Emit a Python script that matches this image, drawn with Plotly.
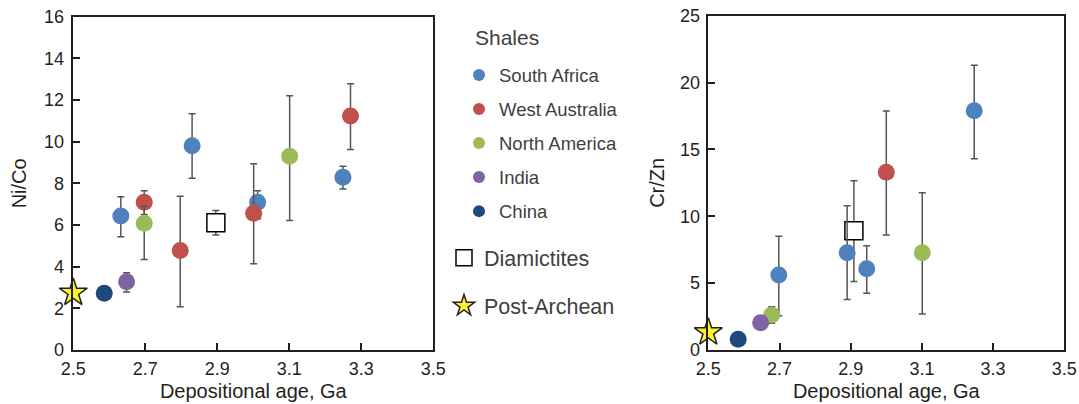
import plotly.graph_objects as go

# ---------------- data ----------------
# Left panel: Ni/Co vs depositional age (Ga)
sa_age_ni = [2.632, 2.830, 3.012, 3.249]
sa_ni = [6.43, 9.81, 7.09, 8.29]
sa_ni_hi = [7.36, 11.34, 7.65, 8.82]
sa_ni_lo = [5.44, 8.24, 6.30, 7.73]

wa_age_ni = [2.697, 2.797, 3.001, 3.270]
wa_ni = [7.09, 4.78, 6.56, 11.23]
wa_ni_hi = [7.65, 7.38, 8.94, 12.78]
wa_ni_lo = [6.50, 2.08, 4.14, 9.62]

na_age_ni = [2.697, 3.101]
na_ni = [6.08, 9.30]
na_ni_hi = [6.90, 12.21]
na_ni_lo = [4.35, 6.22]

in_age_ni = [2.648]
in_ni = [3.28]
in_ni_hi = [3.71]
in_ni_lo = [2.78]

cn_age_ni = [2.586]
cn_ni = [2.72]

dm_age_ni = [2.896]
dm_ni = [6.11]
dm_ni_hi = [6.70]
dm_ni_lo = [5.52]

pa_age_ni = [2.50]
pa_ni = [2.75]

# Right panel: Cr/Zn vs depositional age (Ga)
sa_age_cr = [2.698, 2.890, 2.945, 3.247]
sa_cr = [5.61, 7.28, 6.08, 17.90]
sa_cr_hi = [8.50, 10.79, 7.80, 21.30]
sa_cr_lo = [2.57, 3.78, 4.24, 14.30]

wa_age_cr = [3.000]
wa_cr = [13.29]
wa_cr_hi = [17.87]
wa_cr_lo = [8.60]

na_age_cr = [2.678, 3.101]
na_cr = [2.62, 7.28]
na_cr_hi = [3.24, 11.76]
na_cr_lo = [2.00, 2.70]

in_age_cr = [2.647]
in_cr = [2.04]

cn_age_cr = [2.584]
cn_cr = [0.80]

dm_age_cr = [2.909]
dm_cr = [8.92]
dm_cr_hi = [12.66]
dm_cr_lo = [5.13]

pa_age_cr = [2.50]
pa_cr = [1.32]

x_ticks = [2.5, 2.7, 2.9, 3.1, 3.3, 3.5]
ni_ticks = [0, 2, 4, 6, 8, 10, 12, 14, 16]
cr_ticks = [0, 5, 10, 15, 20, 25]

# ---------------- style ----------------
C_SA = "#4F81BD"
C_WA = "#C0504D"
C_NA = "#9BBB59"
C_IN = "#8064A2"
C_CN = "#1F497D"
ERR_C = "#555555"
FONT = "Liberation Sans, Arial, sans-serif"
TXT = "#231F20"
LEG = "#404040"

W, H = 1079, 404


def px(x):
    return x / W


def py(y):
    return 1 - y / H


fig = go.Figure()


def err(vals, hi, lo):
    if hi is None:
        return None
    return dict(type="data", symmetric=False,
                array=[h - v for h, v in zip(hi, vals)],
                arrayminus=[v - l for v, l in zip(vals, lo)],
                color=ERR_C, thickness=1.5, width=3.5)


def add(x, y, hi, lo, name, color, xa, ya, show, symbol="circle", size=17,
        line_color=None, legend="legend", group=None):
    fig.add_trace(go.Scatter(
        x=x, y=y, mode="markers", name=name,
        marker=dict(symbol=symbol, size=size, color=color,
                    line=dict(width=1.5 if line_color else 0,
                              color=line_color or color)),
        error_y=err(y, hi, lo),
        xaxis=xa, yaxis=ya, showlegend=show, legend=legend,
        legendgroup=group or name, cliponaxis=False))


# Diamictites first (so its bar sits under the shale circles)
add(dm_age_ni, dm_ni, dm_ni_hi, dm_ni_lo, "Diamictites", "white", "x", "y", True,
    symbol="square", size=18, line_color="#000000", legend="legend2")
add(dm_age_cr, dm_cr, dm_cr_hi, dm_cr_lo, "Diamictites", "white", "x2", "y2", False,
    symbol="square", size=18, line_color="#000000", legend="legend2")

add(sa_age_ni, sa_ni, sa_ni_hi, sa_ni_lo, "South Africa", C_SA, "x", "y", True)
add(sa_age_cr, sa_cr, sa_cr_hi, sa_cr_lo, "South Africa", C_SA, "x2", "y2", False)
add(wa_age_ni, wa_ni, wa_ni_hi, wa_ni_lo, "West Australia", C_WA, "x", "y", True)
add(wa_age_cr, wa_cr, wa_cr_hi, wa_cr_lo, "West Australia", C_WA, "x2", "y2", False)
add(na_age_ni, na_ni, na_ni_hi, na_ni_lo, "North America", C_NA, "x", "y", True)
add(na_age_cr, na_cr, na_cr_hi, na_cr_lo, "North America", C_NA, "x2", "y2", False)
add(in_age_ni, in_ni, in_ni_hi, in_ni_lo, "India", C_IN, "x", "y", True)
add(in_age_cr, in_cr, None, None, "India", C_IN, "x2", "y2", False)
add(cn_age_ni, cn_ni, None, None, "China", C_CN, "x", "y", True)
add(cn_age_cr, cn_cr, None, None, "China", C_CN, "x2", "y2", False)

add(pa_age_ni, pa_ni, None, None, "Post-Archean", "#FFF22D", "x", "y", True,
    symbol="star", size=21, line_color="#231F20", legend="legend2")
add(pa_age_cr, pa_cr, None, None, "Post-Archean", "#FFF22D", "x2", "y2", False,
    symbol="star", size=21, line_color="#231F20", legend="legend2")

axis_common = dict(showline=True, linecolor="#231F20", linewidth=1.5, mirror=True,
                   ticks="inside", ticklen=7, tickwidth=1.5, tickcolor="#231F20",
                   showgrid=False, zeroline=False, automargin=False,
                   ticklabeloverflow="allow",
                   tickfont=dict(family=FONT, size=18, color=TXT),
                   title_font=dict(family=FONT, size=20, color=TXT))

fig.update_layout(
    width=W, height=H,
    margin=dict(l=0, r=0, t=0, b=0),
    paper_bgcolor="white", plot_bgcolor="white",
    font=dict(family=FONT, color=TXT),
    xaxis=dict(domain=[px(73.3), px(433.3)], range=[2.5, 3.5], tickvals=x_ticks,
               ticktext=[f"{v:.1f}" for v in x_ticks], anchor="y",
               ticklabelstandoff=2,
               title=dict(text="Depositional age, Ga", standoff=6), **axis_common),
    yaxis=dict(domain=[py(350), py(16.7)], range=[0, 16], tickvals=ni_ticks, anchor="x",
               ticklabelstandoff=4,
               title=dict(text="Ni/Co", standoff=12), **axis_common),
    xaxis2=dict(domain=[px(708.3), px(1064.3)], range=[2.5, 3.5], tickvals=x_ticks,
                ticktext=[f"{v:.1f}" for v in x_ticks], anchor="y2",
                ticklabelstandoff=2,
                title=dict(text="Depositional age, Ga", standoff=6), **axis_common),
    yaxis2=dict(domain=[py(350), py(15.7)], range=[0, 25], tickvals=cr_ticks, anchor="x2",
                ticklabelstandoff=3,
                title=dict(text="Cr/Zn", standoff=10), **axis_common),
    legend=dict(x=px(459), y=py(56.4), xanchor="left", yanchor="top",
                font=dict(family=FONT, size=18.5, color=LEG),
                tracegroupgap=7, traceorder="grouped", itemsizing="constant",
                bgcolor="rgba(0,0,0,0)"),
    legend2=dict(x=px(444), y=py(237.3), xanchor="left", yanchor="top",
                 font=dict(family=FONT, size=21.5, color=LEG),
                 tracegroupgap=17, traceorder="grouped", itemsizing="trace",
                 bgcolor="rgba(0,0,0,0)"),
    annotations=[dict(text="Shales", x=px(473), y=py(38), xref="paper", yref="paper",
                      xanchor="left", yanchor="middle", showarrow=False,
                      font=dict(family=FONT, size=21, color=LEG))],
)

# remove the default 8px page margin so the figure fills the window exactly
fig.write_html("out.html",
               config={"displayModeBar": False},
               post_script="document.body.style.margin='0';"
                           "document.body.style.overflow='hidden';")
